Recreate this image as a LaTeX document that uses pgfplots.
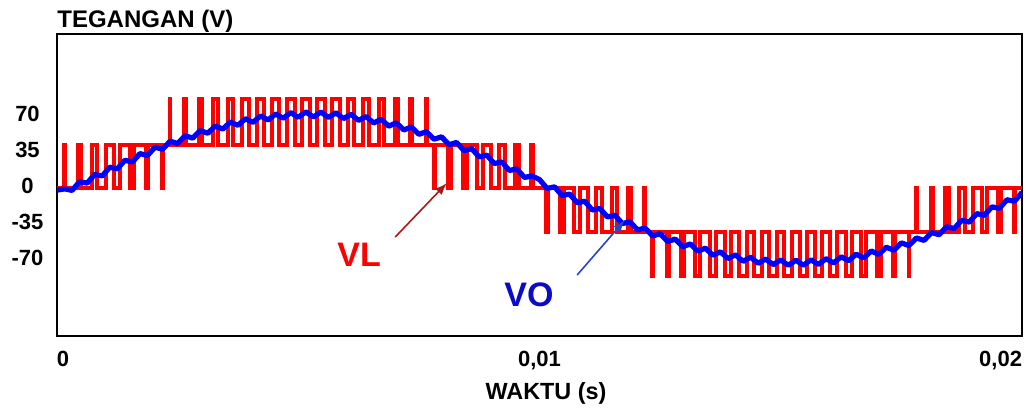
\documentclass[border=0pt]{standalone}
\usepackage{fontspec}
\setmainfont{Liberation Sans}
\usepackage{pgfplots}
\pgfplotsset{compat=1.18}
\usetikzlibrary{arrows.meta}
\definecolor{vlarrow}{RGB}{170,25,25}
\definecolor{votext}{RGB}{10,10,200}
\definecolor{voarrow}{RGB}{40,70,200}
\definecolor{vored}{RGB}{255,0,0}
\definecolor{voblue}{RGB}{0,0,255}
\begin{document}
\begin{tikzpicture}
\useasboundingbox (-28.5pt,-35.5pt) rectangle (484.5pt,168pt);
\begin{axis}[
  at={(0pt,0pt)}, anchor=south west,
  scale only axis, width=482.5pt, height=151pt,
  xmin=0, xmax=20, ymin=-145.6, ymax=147.6,
  axis line style={line width=1pt, black},
  xtick={0,10,20},
  xticklabels={\makebox[0pt][l]{0},{0,01},\makebox[0pt][r]{0,02}},
  ytick={-70,-35,0,35,70},
  yticklabels={-70,-35,0,35,70},
  major tick length=0pt,
  tick style={draw=none},
  xticklabel style={anchor=base, yshift=-15pt, inner sep=0pt, font=\bfseries\fontsize{11}{13}\selectfont},
  yticklabel style={anchor=center, xshift=-14.75pt, inner sep=0pt, font=\bfseries\fontsize{11}{13}\selectfont},
  clip=true,
]
\addplot[const plot, vored, line width=2pt] coordinates {
(0,-1.5)
(0.1446,40) (0.1680,-1.5)
(0.4338,40) (0.5038,-1.5)
(0.7232,40) (0.8393,-1.5)
(1.0133,40) (1.1743,-1.5)
(1.3042,40) (1.5083,-1.5)
(1.5957,40) (1.8418,-1.5)
(1.8888,40) (2.1738,-1.5)
(2.1875,40)
(2.3394,84.5) (2.3482,40)
(2.6353,84.5) (2.6773,40)
(2.9328,84.5) (3.0048,40)
(3.2325,84.5) (3.3300,40)
(3.5338,84.5) (3.6538,40)
(3.8375,84.5) (3.9750,40)
(4.1433,84.5) (4.2943,40)
(4.4513,84.5) (4.6113,40)
(4.7613,84.5) (4.9263,40)
(5.0738,84.5) (5.2388,40)
(5.3888,84.5) (5.5488,40)
(5.7058,84.5) (5.8568,40)
(6.0250,84.5) (6.1625,40)
(6.3463,84.5) (6.4663,40)
(6.6700,84.5) (6.7675,40)
(6.9953,84.5) (7.0673,40)
(7.3228,84.5) (7.3648,40)
(7.6519,84.5) (7.6607,40)
(7.8125,-1.5)
(7.8263,40) (8.1113,-1.5)
(8.1583,40) (8.4043,-1.5)
(8.4918,40) (8.6958,-1.5)
(8.8258,40) (8.9868,-1.5)
(9.1607,40) (9.2768,-1.5)
(9.4963,40) (9.5663,-1.5)
(9.8320,40) (9.8555,-1.5)
(10.1446,-44.5) (10.1680,-1.5)
(10.4338,-44.5) (10.5038,-1.5)
(10.7232,-44.5) (10.8393,-1.5)
(11.0133,-44.5) (11.1743,-1.5)
(11.3042,-44.5) (11.5083,-1.5)
(11.5957,-44.5) (11.8418,-1.5)
(11.8888,-44.5) (12.1738,-1.5)
(12.1875,-44.5)
(12.3394,-87) (12.3482,-44.5)
(12.6353,-87) (12.6773,-44.5)
(12.9328,-87) (13.0048,-44.5)
(13.2325,-87) (13.3300,-44.5)
(13.5338,-87) (13.6538,-44.5)
(13.8375,-87) (13.9750,-44.5)
(14.1433,-87) (14.2943,-44.5)
(14.4513,-87) (14.6113,-44.5)
(14.7613,-87) (14.9263,-44.5)
(15.0738,-87) (15.2388,-44.5)
(15.3888,-87) (15.5488,-44.5)
(15.7058,-87) (15.8568,-44.5)
(16.0250,-87) (16.1625,-44.5)
(16.3463,-87) (16.4663,-44.5)
(16.6700,-87) (16.7675,-44.5)
(16.9953,-87) (17.0673,-44.5)
(17.3228,-87) (17.3648,-44.5)
(17.6519,-87) (17.6607,-44.5)
(17.8125,-1.5)
(17.8263,-44.5) (18.1113,-1.5)
(18.1583,-44.5) (18.4043,-1.5)
(18.4918,-44.5) (18.6958,-1.5)
(18.8258,-44.5) (18.9868,-1.5)
(19.1607,-44.5) (19.2768,-1.5)
(19.4963,-44.5) (19.5663,-1.5)
(19.8320,-44.5) (19.8555,-1.5)
(20,-1.5)
};
\addplot[voblue, line width=2.6pt, line join=round] coordinates {
(0,-4) (0.15625,-2.8) (0.3125,-4.2) (0.46875,4.3) (0.625,2.8) (0.78125,11.3)
(0.9375,9.8) (1.09375,18.3) (1.25,16.7) (1.40625,25.0) (1.5625,23.3) (1.71875,31.5)
(1.875,29.6) (2.03125,37.7) (2.1875,35.7) (2.34375,43.5) (2.5,41.3) (2.65625,48.9)
(2.8125,46.5) (2.96875,53.9) (3.125,51.2) (3.28125,58.3) (3.4375,55.3) (3.59375,62.2)
(3.75,58.9) (3.90625,65.4) (4.0625,61.8) (4.21875,68.1) (4.375,64.1) (4.53125,70.0)
(4.6875,65.8) (4.84375,71.3) (5.0,66.7) (5.15625,72.0) (5.3125,67.0) (5.46875,71.9)
(5.625,66.6) (5.78125,71.1) (5.9375,65.5) (6.09375,69.7) (6.25,63.7) (6.40625,67.5)
(6.5625,61.2) (6.71875,64.8) (6.875,58.1) (7.03125,61.4) (7.1875,54.4) (7.34375,57.4)
(7.5,50.2) (7.65625,52.8) (7.8125,45.4) (7.96875,47.8) (8.125,40.1) (8.28125,42.3)
(8.4375,34.3) (8.59375,36.3) (8.75,28.2) (8.90625,30.1) (9.0625,21.8) (9.21875,23.5)
(9.375,15.1) (9.53125,16.7) (9.6875,8.3) (9.84375,9.8) (10.0,6.3) (10.15625,-2.3)
(10.3125,-0.8) (10.46875,-9.3) (10.625,-7.8) (10.78125,-16.3) (10.9375,-14.8) (11.09375,-23.3)
(11.25,-21.7) (11.40625,-30.0) (11.5625,-28.3) (11.71875,-36.5) (11.875,-34.6) (12.03125,-42.7)
(12.1875,-40.7) (12.34375,-48.5) (12.5,-46.3) (12.65625,-53.9) (12.8125,-51.5) (12.96875,-58.9)
(13.125,-56.2) (13.28125,-63.3) (13.4375,-60.3) (13.59375,-67.2) (13.75,-63.9) (13.90625,-70.4)
(14.0625,-66.8) (14.21875,-73.1) (14.375,-69.1) (14.53125,-75.0) (14.6875,-70.8) (14.84375,-76.3)
(15.0,-71.7) (15.15625,-77.0) (15.3125,-72.0) (15.46875,-76.9) (15.625,-71.6) (15.78125,-76.1)
(15.9375,-70.5) (16.09375,-74.7) (16.25,-68.7) (16.40625,-72.5) (16.5625,-66.2) (16.71875,-69.8)
(16.875,-63.1) (17.03125,-66.4) (17.1875,-59.4) (17.34375,-62.4) (17.5,-55.2) (17.65625,-57.8)
(17.8125,-50.4) (17.96875,-52.8) (18.125,-45.1) (18.28125,-47.3) (18.4375,-39.4) (18.59375,-41.3)
(18.75,-33.2) (18.90625,-35.1) (19.0625,-26.8) (19.21875,-28.5) (19.375,-20.2) (19.53125,-21.7)
(19.6875,-13.3) (19.84375,-14.8) (20.0,-6.3)
};
\draw[vlarrow, line width=0.8pt, -{Latex[length=6pt,width=4.5pt]}] (axis cs:7.01,-49.5) -- (axis cs:8.08,2.9);
\draw[voarrow, line width=0.8pt, -{Latex[length=6pt,width=4.5pt]}] (axis cs:10.78,-86.4) -- (axis cs:11.77,-33);
\node[text=vored, font=\bfseries\fontsize{17}{20}\selectfont, inner sep=0pt] at (axis cs:6.26,-67) {VL};
\node[text=votext, font=\bfseries\fontsize{17}{20}\selectfont, inner sep=0pt] at (axis cs:9.78,-105.3) {VO};
\end{axis}
\node[anchor=base west, inner sep=0pt, font=\bfseries\fontsize{12}{14}\selectfont] at (0pt,154pt) {TEGANGAN (V)};
\node[anchor=base, inner sep=0pt, font=\bfseries\fontsize{11.7}{14}\selectfont] at (244.5pt,-31.5pt) {WAKTU (s)};
\end{tikzpicture}
\end{document}
